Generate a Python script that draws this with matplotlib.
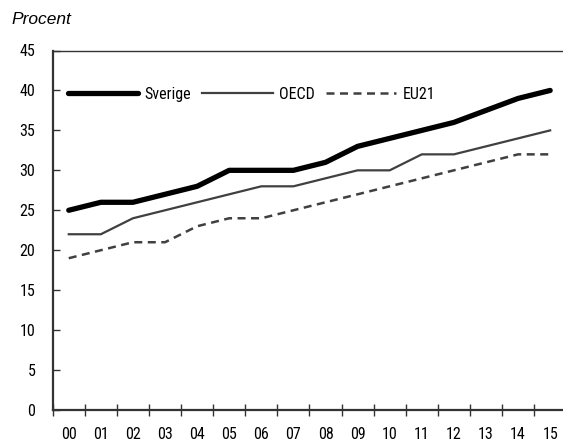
import matplotlib
matplotlib.use('Agg')
from matplotlib import pyplot as plt
import numpy as np

years = ['00', '01', '02', '03', '04', '05', '06', '07', '08', '09', '10', '11', '12', '13', '14', '15']
sverige = [25, 26, 26, 27, 28, 30, 30, 30, 31, 33, 34, 35, 36, 37.5, 39, 40]
oecd = [22, 22, 24, 25, 26, 27, 28, 28, 29, 30, 30, 32, 32, 33, 34, 35]
eu21 = [19, 20, 21, 21, 23, 24, 24, 25, 26, 27, 28, 29, 30, 31, 32, 32]
yticks = [0, 5, 10, 15, 20, 25, 30, 35, 40, 45]

plt.rcParams['font.family'] = ['Roboto Condensed', 'DejaVu Sans']

fig = plt.figure(figsize=(5.63, 4.41), dpi=100)
ax = fig.add_axes([52.7/563, 1 - 410/441, 1 - 52.7/563, (410 - 50.5)/441])

x = np.arange(len(years))
ax.plot(x, sverige, color='black', lw=3.8, solid_capstyle='round', label='Sverige')
ax.plot(x, oecd, color='#404040', lw=1.6, label='OECD')
ax.plot(x, eu21, color='#404040', lw=1.8, dashes=(3.2, 2.2), label='EU21')

ax.set_xlim(-0.5, 15.4)
ax.set_ylim(0, 45)
ax.set_yticks(yticks)
# ticks sit between the years, labels in the middle
ax.set_xticks(x - 0.5, minor=False)
ax.set_xticklabels([])
ax.set_xticks(x, minor=True)
ax.set_xticklabels(years, minor=True)
ax.tick_params(axis='x', which='major', direction='inout', length=9, width=1, color='#333333')
ax.tick_params(axis='x', which='minor', length=0, pad=12, labelsize=11.5)
ax.tick_params(axis='y', direction='in', length=5, width=1, color='#333333', pad=12.5, labelsize=11.5)

ax.spines['right'].set_visible(False)
for s in ['left', 'bottom', 'top']:
    ax.spines[s].set_color('#333333')
ax.spines['left'].set_linewidth(1.6)
ax.spines['bottom'].set_linewidth(1.6)
ax.spines['top'].set_linewidth(1.0)

ax.legend(ncol=3, frameon=False, loc='center left', bbox_to_anchor=(0.03, 39.5/45),
          borderaxespad=0, borderpad=0, handlelength=4.4, handletextpad=0.4,
          columnspacing=0.7, fontsize=11.5)

fig.text(11/563, 1 - 20/441, 'Procent', fontsize=12.5, style='italic', va='center', ha='left',
         family='Liberation Sans')

fig.savefig('out.png', dpi=100)
